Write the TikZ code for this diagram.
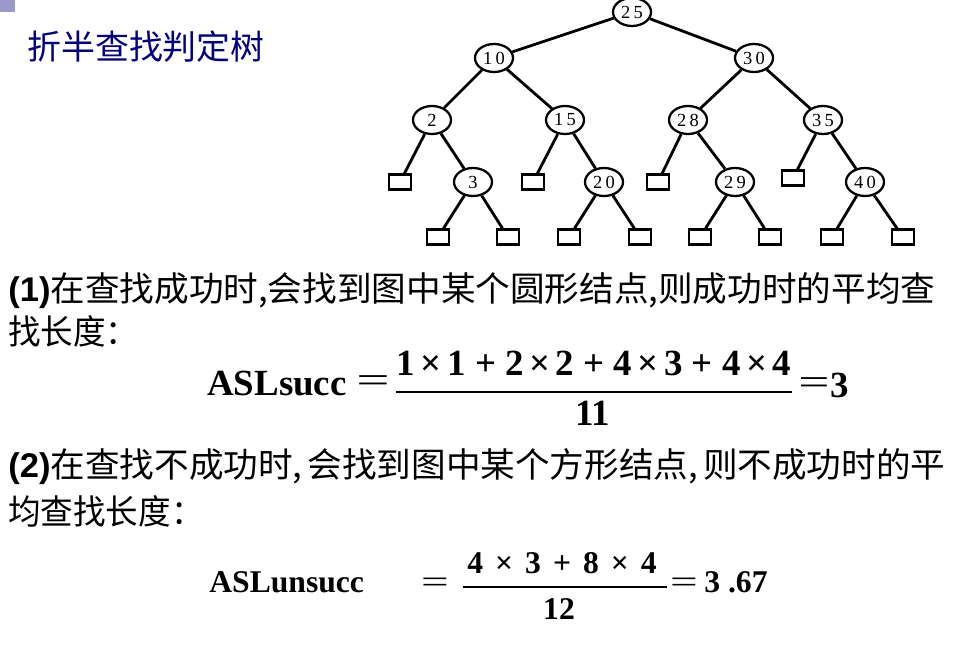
\documentclass[tikz,border=0pt]{standalone}
\usepackage{fontspec}
\setmainfont{Liberation Serif}
\newfontfamily\cjk{Noto Sans CJK SC}
\newfontfamily\arialfont{Liberation Sans}
\usetikzlibrary{shapes.geometric}
\newcommand{\unitsize}{0.02cm}
\newcommand{\wideeq}[1]{\scalebox{#1}[1]{\mdseries =}}
\definecolor{titleblue}{RGB}{0,0,128}
\definecolor{bulletblue}{RGB}{153,153,204}

\begin{document}
\begin{tikzpicture}
\useasboundingbox (0,0) rectangle (960*\unitsize,-651*\unitsize);
\tikzstyle{key}=[draw,
			ellipse,
			line width=1.3pt,
			minimum width=38*\unitsize,
			minimum height=28*\unitsize,
			inner sep=0pt,
			font=\fontsize{10.5}{10.5}\selectfont
			]
\tikzstyle{leaf}=[draw, rectangle, line width=1.3pt, minimum width=22*\unitsize, minimum height=15*\unitsize, inner sep=0pt]
\tikzstyle{edge}=[line width=1.6pt]
\tikzstyle{body}=[anchor=west, inner sep=0pt, font=\cjk\fontsize{19.5}{24}\selectfont]
\tikzstyle{eqa}=[inner sep=0pt, font=\bfseries\fontsize{21}{24}\selectfont]
\tikzstyle{eqb}=[inner sep=0pt, font=\bfseries\fontsize{18}{20}\selectfont]

% bullet and title
\fill[bulletblue] (0,0) rectangle (15*\unitsize,-12*\unitsize);
\node[anchor=west, inner sep=0pt, text=titleblue, font=\cjk\fontsize{19.3}{22}\selectfont] (title) at (27*\unitsize,-47*\unitsize) {折半查找判定树};

% round nodes
\node[key] (n25) at (632*\unitsize,-12*\unitsize) {2\,5};
\node[key] (n10) at (494*\unitsize,-58*\unitsize) {1\,0};
\node[key] (n30) at (754*\unitsize,-58*\unitsize) {3\,0};
\node[key] (n2) at (432*\unitsize,-120*\unitsize) {2};
\node[key] (n15) at (565*\unitsize,-120*\unitsize) {1\,5};
\node[key] (n28) at (688*\unitsize,-120*\unitsize) {2\,8};
\node[key] (n35) at (823*\unitsize,-120*\unitsize) {3\,5};
\node[key] (n3) at (473*\unitsize,-182*\unitsize) {3};
\node[key] (n20) at (604*\unitsize,-182*\unitsize) {2\,0};
\node[key] (n29) at (735*\unitsize,-182*\unitsize) {2\,9};
\node[key] (n40) at (865*\unitsize,-182*\unitsize) {4\,0};

% square nodes
\node[leaf] (s1) at (400*\unitsize,-182*\unitsize) {};
\node[leaf] (s2) at (533*\unitsize,-182*\unitsize) {};
\node[leaf] (s3) at (658*\unitsize,-182*\unitsize) {};
\node[leaf] (s4) at (793*\unitsize,-178*\unitsize) {};
\node[leaf] (s5) at (438*\unitsize,-237*\unitsize) {};
\node[leaf] (s6) at (508*\unitsize,-237*\unitsize) {};
\node[leaf] (s7) at (569*\unitsize,-237*\unitsize) {};
\node[leaf] (s8) at (640*\unitsize,-237*\unitsize) {};
\node[leaf] (s9) at (700*\unitsize,-237*\unitsize) {};
\node[leaf] (s10) at (770*\unitsize,-237*\unitsize) {};
\node[leaf] (s11) at (832*\unitsize,-237*\unitsize) {};
\node[leaf] (s12) at (903*\unitsize,-237*\unitsize) {};

% edges
\draw[edge] (n25) -- (n10);
\draw[edge] (n25) -- (n30);
\draw[edge] (n10) -- (n2);
\draw[edge] (n10) -- (n15);
\draw[edge] (n30) -- (n28);
\draw[edge] (n30) -- (n35);
\draw[edge] (n2) -- (s1);
\draw[edge] (n2) -- (n3);
\draw[edge] (n15) -- (s2);
\draw[edge] (n15) -- (n20);
\draw[edge] (n28) -- (s3);
\draw[edge] (n28) -- (n29);
\draw[edge] (n35) -- (s4);
\draw[edge] (n35) -- (n40);
\draw[edge] (n3) -- (s5);
\draw[edge] (n3) -- (s6);
\draw[edge] (n20) -- (s7);
\draw[edge] (n20) -- (s8);
\draw[edge] (n29) -- (s9);
\draw[edge] (n29) -- (s10);
\draw[edge] (n40) -- (s11);
\draw[edge] (n40) -- (s12);

% text (1)
\node[body] (line1) at (8*\unitsize,-291*\unitsize) {\resizebox{18.54cm}{\height}{{\arialfont\bfseries (1)}在查找成功时,会找到图中某个圆形结点,则成功时的平均查}};
\node[body] (line2) at (8*\unitsize,-331*\unitsize) {\scalebox{0.95}[1]{找长度：}};

\node[eqa, anchor=west] (asl1) at (207*\unitsize,-384*\unitsize) {ASLsucc};
\node[eqa] (eq1) at (373*\unitsize,-384*\unitsize) {\wideeq{1.6}};
\node[eqa] (num1) at (594*\unitsize,-363*\unitsize) {1\hspace{0.15em}×\hspace{0.15em}1\hspace{0.25em}+\hspace{0.25em}2\hspace{0.15em}×\hspace{0.15em}2\hspace{0.25em}+\hspace{0.25em}4\hspace{0.15em}×\hspace{0.15em}3\hspace{0.25em}+\hspace{0.25em}4\hspace{0.15em}×\hspace{0.15em}4};
\draw[line width=1.1pt] (396*\unitsize,-392*\unitsize) -- (792*\unitsize,-392*\unitsize);
\node[eqa] (den1) at (593*\unitsize,-413*\unitsize) {11};
\node[eqa] (eq1b) at (814*\unitsize,-386*\unitsize) {\wideeq{1.5}};
\node[eqa, anchor=west] (res1) at (830*\unitsize,-385*\unitsize) {3};

% text (2)
\node[body] (line3) at (8*\unitsize,-467*\unitsize) {\resizebox{18.74cm}{\height}{{\arialfont\bfseries (2)}在查找不成功时,\hspace{0.15em}会找到图中某个方形结点,\hspace{0.15em}则不成功时的平}};
\node[body] (line4) at (8*\unitsize,-511*\unitsize) {\scalebox{0.95}[1]{均查找长度：}};

\node[eqb, anchor=west] (asl2) at (209*\unitsize,-582*\unitsize) {ASLunsucc};
\node[eqb] (eq2) at (435*\unitsize,-585*\unitsize) {\wideeq{1.55}};
\node[eqb] (num2) at (562*\unitsize,-563*\unitsize) {4\hspace{0.38em}×\hspace{0.38em}3\hspace{0.38em}+\hspace{0.38em}8\hspace{0.38em}×\hspace{0.38em}4};
\draw[line width=1pt] (463*\unitsize,-587*\unitsize) -- (667*\unitsize,-587*\unitsize);
\node[eqb] (den2) at (559*\unitsize,-609*\unitsize) {12};
\node[eqb] (eq2b) at (684*\unitsize,-585*\unitsize) {\wideeq{1.55}};
\node[eqb, anchor=west] (res2) at (704*\unitsize,-582*\unitsize) {3\hspace{0.25em}.67};
\end{tikzpicture}
\end{document}
